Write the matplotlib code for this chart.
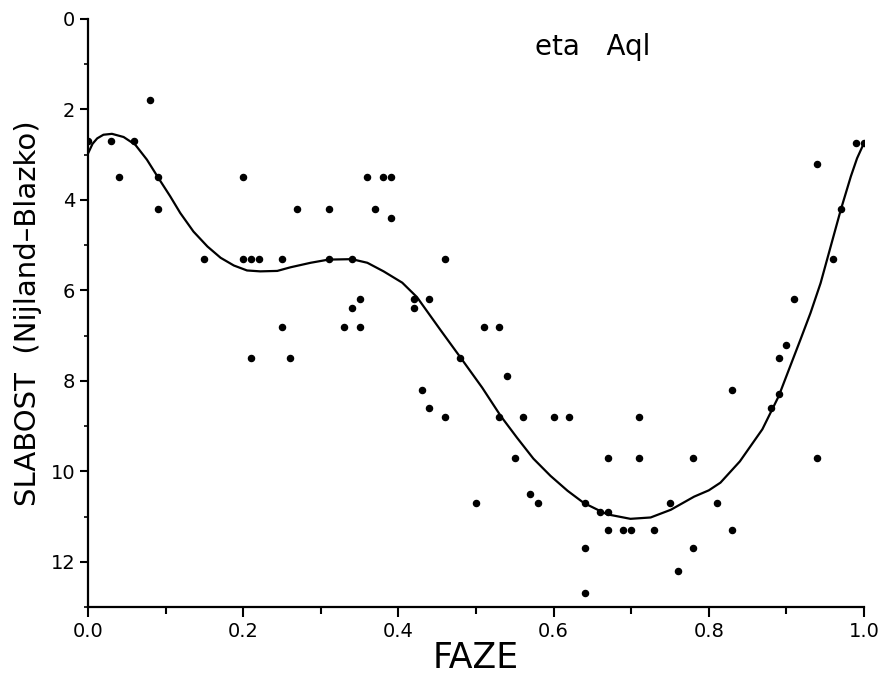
import matplotlib
matplotlib.use("Agg")
import matplotlib.pyplot as plt
from matplotlib.ticker import MultipleLocator, FixedLocator

# Observed points (phase, magnitude step)
phase = [0.00, 0.03, 0.04, 0.06, 0.08, 0.09, 0.09, 0.15, 0.20, 0.20, 0.21, 0.22,
         0.25, 0.27, 0.31, 0.31, 0.34, 0.36, 0.37, 0.38, 0.39, 0.39, 0.46, 0.42,
         0.42, 0.44, 0.34, 0.35, 0.25, 0.33, 0.35, 0.21, 0.26, 0.43, 0.44, 0.46,
         0.94, 0.99, 1.00, 0.97, 0.96, 0.91, 0.51, 0.53, 0.48, 0.54, 0.90, 0.89,
         0.83, 0.89, 0.88, 0.53, 0.56, 0.60, 0.62, 0.71, 0.55, 0.67, 0.71, 0.78,
         0.94, 0.50, 0.57, 0.58, 0.64, 0.66, 0.67, 0.75, 0.81, 0.67, 0.69, 0.70,
         0.73, 0.83, 0.64, 0.78, 0.76, 0.64]
step = [2.7, 2.7, 3.5, 2.7, 1.8, 3.5, 4.2, 5.3, 3.5, 5.3, 5.3, 5.3,
        5.3, 4.2, 4.2, 5.3, 5.3, 3.5, 4.2, 3.5, 3.5, 4.4, 5.3, 6.2,
        6.4, 6.2, 6.4, 6.2, 6.8, 6.8, 6.8, 7.5, 7.5, 8.2, 8.6, 8.8,
        3.2, 2.75, 2.75, 4.2, 5.3, 6.2, 6.8, 6.8, 7.5, 7.9, 7.2, 7.5,
        8.2, 8.3, 8.6, 8.8, 8.8, 8.8, 8.8, 8.8, 9.7, 9.7, 9.7, 9.7,
        9.7, 10.7, 10.5, 10.7, 10.7, 10.9, 10.9, 10.7, 10.7, 11.3, 11.3, 11.3,
        11.3, 11.3, 11.7, 11.7, 12.2, 12.7]

# Fitted light curve
curve_x = [0.000, 0.006, 0.012, 0.020, 0.031, 0.046, 0.061, 0.076, 0.091, 0.106,
           0.119, 0.136, 0.154, 0.171, 0.188, 0.205, 0.222, 0.244, 0.261, 0.287,
           0.310, 0.340, 0.360, 0.381, 0.405, 0.424, 0.454, 0.482, 0.508, 0.532,
           0.553, 0.574, 0.596, 0.618, 0.639, 0.658, 0.669, 0.699, 0.725, 0.751,
           0.781, 0.800, 0.815, 0.840, 0.869, 0.890, 0.905, 0.918, 0.931, 0.944,
           0.957, 0.970, 0.983, 0.991, 1.000]
curve_y = [2.98, 2.76, 2.64, 2.56, 2.54, 2.61, 2.78, 3.11, 3.52, 3.92,
           4.29, 4.70, 5.03, 5.28, 5.45, 5.56, 5.58, 5.57, 5.49, 5.39,
           5.32, 5.31, 5.39, 5.58, 5.83, 6.15, 6.87, 7.53, 8.15, 8.78,
           9.26, 9.72, 10.10, 10.43, 10.70, 10.86, 10.95, 11.05, 11.02, 10.85,
           10.56, 10.42, 10.25, 9.78, 9.07, 8.34, 7.67, 7.09, 6.50, 5.84,
           5.03, 4.22, 3.48, 3.08, 2.74]

x_ticks = [0.0, 0.2, 0.4, 0.6, 0.8, 1.0]
x_tick_labels = ["0.0", "0.2", "0.4", "0.6", "0.8", "1.0"]
y_ticks = [0, 2, 4, 6, 8, 10, 12]

fig = plt.figure(figsize=(8.79, 6.76), dpi=100)
ax = fig.add_axes([0.1, 0.102, 0.883, 0.870])

ax.plot(curve_x, curve_y, color="black", lw=1.6, solid_joinstyle="round")
ax.plot(phase, step, linestyle="none", marker="o", color="black", markersize=4.4)

ax.set_xlim(0, 1.0)
ax.set_ylim(13, 0)

for s in ("top", "right"):
    ax.spines[s].set_visible(False)
for s in ("left", "bottom"):
    ax.spines[s].set_linewidth(1.6)

ax.xaxis.set_major_locator(FixedLocator(x_ticks))
ax.set_xticklabels(x_tick_labels)
ax.xaxis.set_minor_locator(MultipleLocator(0.1))
ax.yaxis.set_major_locator(FixedLocator(y_ticks))
ax.yaxis.set_minor_locator(MultipleLocator(1))

ax.tick_params(axis="x", which="major", direction="out", length=7, width=1.5,
               labelsize=14, pad=4)
ax.tick_params(axis="x", which="minor", direction="out", length=5, width=1.5)
ax.tick_params(axis="y", which="major", direction="out", length=6, width=1.5,
               labelsize=14, pad=3)
ax.tick_params(axis="y", which="minor", direction="out", length=3, width=1.2)

ax.set_xlabel("FAZE", fontsize=25, labelpad=0)
ax.set_ylabel("SLABOST  (Nijland–Blazko)", fontsize=21, labelpad=6)

ax.text(0.651, 0.62, "eta   Aql", fontsize=20, ha="center", va="center")

fig.savefig("out.png", dpi=100)
